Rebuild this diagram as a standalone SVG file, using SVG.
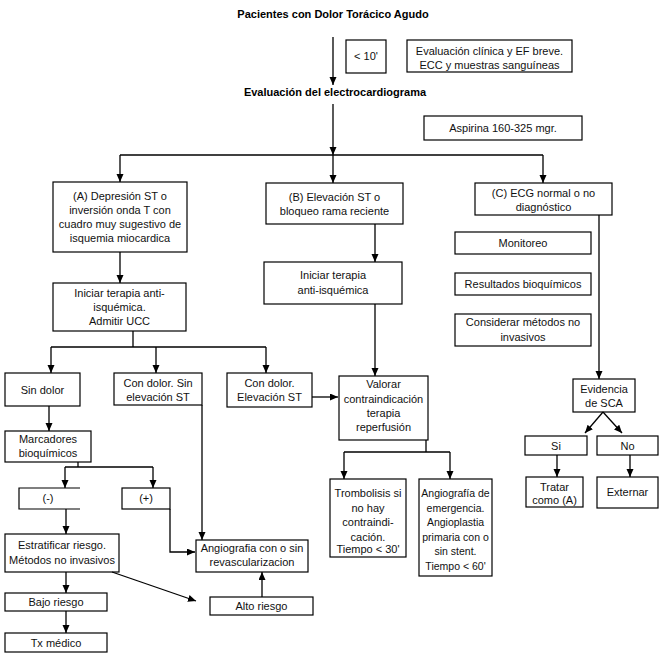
<svg xmlns="http://www.w3.org/2000/svg" width="663" height="656" viewBox="0 0 663 656">
<defs>
<marker id="ah" markerUnits="userSpaceOnUse" markerWidth="8" markerHeight="8" refX="8" refY="3.5" orient="auto">
<path d="M0,0 L8,3.5 L0,7 z" fill="#000"/>
</marker>
<style>
.bx{fill:#fff;stroke:#000;stroke-width:1.2}
.t{font-family:"Liberation Sans",Arial,sans-serif;font-size:11px;fill:#111;text-anchor:middle}
.s{font-size:10.5px}
.h{font-family:"Liberation Sans",Arial,sans-serif;font-size:11px;font-weight:bold;fill:#000;text-anchor:middle}
.c line,.c polyline{stroke:#000;stroke-width:1.3;fill:none}
.a{marker-end:url(#ah)}
</style>
</defs>
<rect width="663" height="656" fill="#fff"/>

<g id="title"><text class="h" x="333" y="18">Pacientes con Dolor Torácico Agudo</text></g>
<g id="ecg-title"><text class="h" x="335" y="96">Evaluación del electrocardiograma</text></g>

<g id="n-lt10"><rect class="bx" x="346" y="40" width="40" height="33"/><text class="t" x="366" y="60">&lt; 10'</text></g>
<g id="n-eval"><rect class="bx" x="407" y="40" width="165" height="32"/><text class="t" x="489.5" y="55">Evaluación clínica y EF breve.</text><text class="t" x="489.5" y="69">ECC y muestras sanguíneas</text></g>
<g id="n-aspirina"><rect class="bx" x="424" y="116" width="158" height="24"/><text class="t" x="503" y="132">Aspirina 160-325 mgr.</text></g>

<g id="n-A"><rect class="bx" x="53" y="182" width="134" height="70"/><text class="t" x="120" y="200">(A) Depresión ST o</text><text class="t" x="120" y="214">inversión onda T con</text><text class="t" x="120" y="228">cuadro muy sugestivo de</text><text class="t" x="120" y="242">isquemia miocardica</text></g>
<g id="n-B"><rect class="bx" x="266" y="183" width="137" height="41"/><text class="t" x="334.5" y="201">(B) Elevación ST o</text><text class="t" x="334.5" y="215">bloqueo rama reciente</text></g>
<g id="n-C"><rect class="bx" x="475" y="183" width="137" height="32"/><text class="t" x="543.5" y="197">(C) ECG normal o no</text><text class="t" x="543.5" y="211">diagnóstico</text></g>

<g id="n-iniA"><rect class="bx" x="53" y="283" width="133" height="48"/><text class="t" x="119.5" y="297">Iniciar terapia anti-</text><text class="t" x="119.5" y="311">isquémica.</text><text class="t" x="119.5" y="325">Admitir UCC</text></g>
<g id="n-iniB"><rect class="bx" x="264" y="262" width="138" height="42"/><text class="t" x="333" y="279">Iniciar terapia</text><text class="t" x="333" y="294">anti-isquémica</text></g>

<g id="n-monitoreo"><rect class="bx" x="455" y="232" width="136" height="22"/><text class="t" x="523" y="247">Monitoreo</text></g>
<g id="n-resultados"><rect class="bx" x="455" y="273" width="136" height="22"/><text class="t" x="523" y="288">Resultados bioquímicos</text></g>
<g id="n-considerar"><rect class="bx" x="455" y="314" width="136" height="32"/><text class="t" x="523" y="326">Considerar métodos no</text><text class="t" x="523" y="341">invasivos</text></g>

<g id="n-sindolor"><rect class="bx" x="5" y="373" width="75" height="33"/><text class="t" x="42.5" y="394">Sin dolor</text></g>
<g id="n-condolor-sin"><rect class="bx" x="114" y="373" width="88" height="32"/><text class="t" x="158" y="387">Con dolor. Sin</text><text class="t" x="158" y="401">elevación ST</text></g>
<g id="n-condolor-elev"><rect class="bx" x="227" y="373" width="85" height="34"/><text class="t" x="269.5" y="387">Con dolor.</text><text class="t" x="269.5" y="401">Elevación ST</text></g>
<g id="n-valorar"><rect class="bx" x="339" y="376" width="89" height="64"/><text class="t" x="383.5" y="388">Valorar</text><text class="t" x="383.5" y="403">contraindicación</text><text class="t" x="383.5" y="417">terapia</text><text class="t" x="383.5" y="431">reperfusión</text></g>

<g id="n-evidencia"><rect class="bx" x="573" y="379" width="62" height="33"/><text class="t" x="604" y="393">Evidencia</text><text class="t" x="604" y="407">de SCA</text></g>
<g id="n-si"><rect class="bx" x="525" y="436" width="62" height="19"/><text class="t" x="556" y="450">Si</text></g>
<g id="n-no"><rect class="bx" x="597" y="436" width="61" height="19"/><text class="t" x="627.5" y="450">No</text></g>
<g id="n-tratar"><rect class="bx" x="526" y="477" width="57" height="30"/><text class="t" x="554.5" y="491">Tratar</text><text class="t" x="554.5" y="504">como (A)</text></g>
<g id="n-externar"><rect class="bx" x="597" y="477" width="61" height="31"/><text class="t" x="627.5" y="496">Externar</text></g>

<g id="n-marcadores"><rect class="bx" x="5" y="431" width="86" height="31"/><text class="t" x="48" y="443">Marcadores</text><text class="t" x="48" y="457">bioquímicos</text></g>
<g id="n-neg"><path class="bx" d="M80,488 H19 V509 H80"/><text class="t" x="48" y="502">(-)</text></g>
<g id="n-pos"><rect class="bx" x="122" y="488" width="48" height="21"/><text class="t" x="146" y="502">(+)</text></g>
<g id="n-estratificar"><rect class="bx" x="5" y="534" width="114" height="38"/><text class="t" x="62" y="549">Estratificar riesgo.</text><text class="t" x="62" y="564">Métodos no invasivos</text></g>
<g id="n-bajo"><rect class="bx" x="5" y="593" width="102" height="18"/><text class="t" x="56" y="606">Bajo riesgo</text></g>
<g id="n-tx"><rect class="bx" x="5" y="633" width="102" height="19"/><text class="t" x="56" y="647">Tx médico</text></g>
<g id="n-angio"><rect class="bx" x="196" y="540" width="112" height="32"/><text class="t" x="252" y="552">Angiografia con o sin</text><text class="t" x="252" y="566">revascularizacion</text></g>
<g id="n-alto"><rect class="bx" x="210" y="597" width="103" height="18"/><text class="t" x="261.5" y="610">Alto riesgo</text></g>

<g id="n-trombolisis"><rect class="bx" x="330" y="479" width="76" height="78"/><text class="t" x="368" y="497">Trombolisis si</text><text class="t" x="368" y="511.5">no hay</text><text class="t" x="368" y="526">contraindi-</text><text class="t" x="368" y="540.5">cación.</text><text class="t" x="368" y="553">Tiempo &lt; 30'</text></g>
<g id="n-angio-emerg"><rect class="bx" x="419" y="479" width="73" height="97"/><text class="t s" x="455.5" y="497">Angiografía de</text><text class="t s" x="455.5" y="511.5">emergencia.</text><text class="t s" x="455.5" y="526">Angioplastia</text><text class="t s" x="455.5" y="540.5">primaria con o</text><text class="t s" x="455.5" y="555">sin stent.</text><text class="t s" x="455.5" y="569.5">Tiempo &lt; 60'</text></g>

<g id="connectors" class="c">
<line class="a" x1="333" y1="37" x2="333" y2="85"/>
<line class="a" x1="333" y1="104" x2="333" y2="155"/>
<line x1="120" y1="155" x2="543" y2="155"/>
<line class="a" x1="120" y1="155" x2="120" y2="182"/>
<line class="a" x1="333" y1="155" x2="333" y2="183"/>
<line class="a" x1="543" y1="155" x2="543" y2="183"/>
<line class="a" x1="120" y1="252" x2="120" y2="283"/>
<polyline points="133,331 133,347"/>
<line x1="51" y1="347" x2="266" y2="347"/>
<line class="a" x1="51" y1="347" x2="51" y2="373"/>
<line class="a" x1="156" y1="347" x2="156" y2="373"/>
<line class="a" x1="266" y1="347" x2="266" y2="373"/>
<line class="a" x1="375" y1="224" x2="375" y2="262"/>
<line class="a" x1="375" y1="304" x2="375" y2="376"/>
<line class="a" x1="599" y1="215" x2="599" y2="379"/>
<line class="a" x1="603" y1="412" x2="585" y2="433"/>
<line class="a" x1="603" y1="412" x2="622" y2="433"/>
<line class="a" x1="557" y1="455" x2="557" y2="477"/>
<line class="a" x1="630" y1="455" x2="630" y2="477"/>
<line class="a" x1="312" y1="397" x2="338" y2="397"/>
<line x1="426" y1="440" x2="426" y2="452"/>
<line x1="344" y1="452" x2="450" y2="452"/>
<line class="a" x1="344" y1="452" x2="344" y2="479"/>
<line class="a" x1="450" y1="452" x2="450" y2="479"/>
<line class="a" x1="49" y1="406" x2="49" y2="431"/>
<line x1="78" y1="462" x2="78" y2="467"/>
<line x1="65" y1="467" x2="153" y2="467"/>
<line class="a" x1="65" y1="467" x2="65" y2="488"/>
<line class="a" x1="153" y1="467" x2="153" y2="488"/>
<line class="a" x1="66" y1="509" x2="66" y2="534"/>
<polyline class="a" points="170,509 170,552 195,552"/>
<line class="a" x1="202" y1="405" x2="202" y2="540"/>
<line class="a" x1="112" y1="572" x2="196" y2="601"/>
<line class="a" x1="262" y1="597" x2="262" y2="572"/>
<line class="a" x1="66" y1="572" x2="66" y2="593"/>
<line class="a" x1="66" y1="611" x2="66" y2="633"/>
</g>
</svg>
